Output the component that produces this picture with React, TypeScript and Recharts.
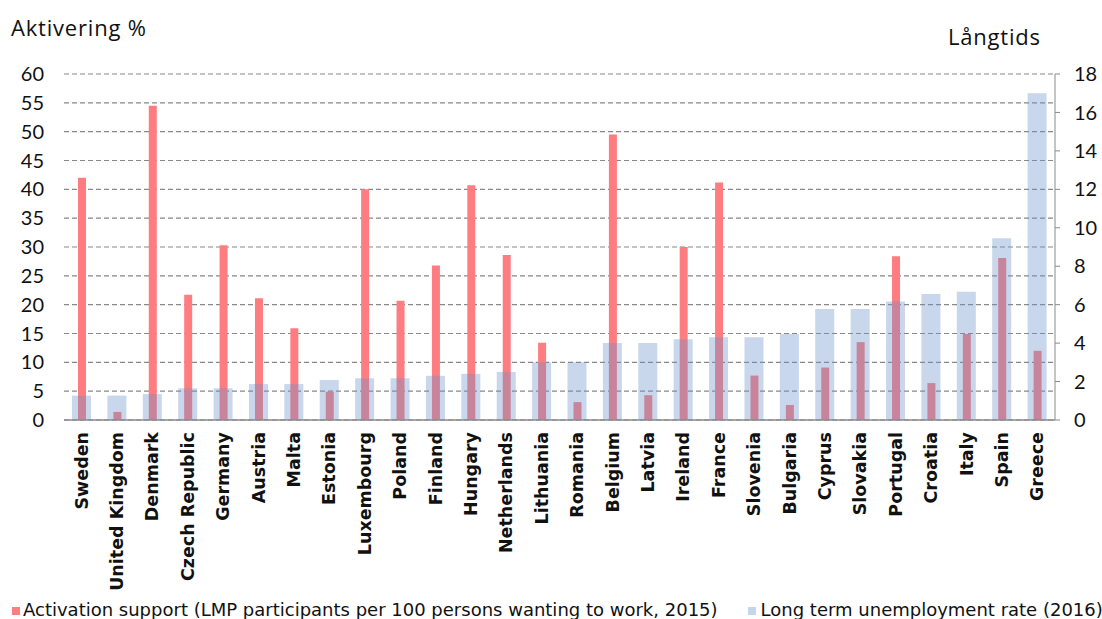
import { Bar, BarChart, CartesianGrid, Legend, XAxis, YAxis } from "recharts"

const countries = [
  "Sweden", "United Kingdom", "Denmark", "Czech Republic", "Germany", "Austria", "Malta",
  "Estonia", "Luxembourg", "Poland", "Finland", "Hungary", "Netherlands", "Lithuania",
  "Romania", "Belgium", "Latvia", "Ireland", "France", "Slovenia", "Bulgaria", "Cyprus",
  "Slovakia", "Portugal", "Croatia", "Italy", "Spain", "Greece",
]

// LMP participants per 100 persons wanting to work, 2015 (left axis)
const activation = [
  42, 1.4, 54.5, 21.7, 30.3, 21.1, 15.9, 4.9, 40, 20.7, 26.8, 40.7, 28.6, 13.4,
  3.1, 49.5, 4.3, 30, 41.2, 7.7, 2.6, 9.1, 13.5, 28.4, 6.4, 14.9, 28.1, 12,
]

// long term unemployment rate 2016 (right axis)
const longTerm = [
  1.27, 1.27, 1.35, 1.65, 1.65, 1.87, 1.87, 2.08, 2.17, 2.17, 2.3, 2.4, 2.5, 3.0,
  3.0, 4.0, 4.0, 4.2, 4.3, 4.3, 4.47, 5.78, 5.78, 6.16, 6.56, 6.67, 9.46, 17.0,
]

const leftTicks = [0, 5, 10, 15, 20, 25, 30, 35, 40, 45, 50, 55, 60]
const rightTicks = [0, 2, 4, 6, 8, 10, 12, 14, 16, 18]

const activationLabel = "Activation support (LMP participants per 100 persons wanting to work, 2015)"
const longTermLabel = "Long term unemployment rate (2016)"

const legendColors: Record<string, string> = {
  activation: "#ff7c80",
  longTerm: "#c6d6ea",
}

const data = countries.map((country, i) => ({
  country,
  activation: activation[i],
  longTerm: longTerm[i],
}))

const verdana = "'DejaVu Sans', Verdana, sans-serif"
const tickFont = { fontFamily: "Lato", fontSize: 20, fill: "#111" }

function CountryTick(props: any) {
  const { x, y, payload } = props
  return (
    <text
      x={x}
      y={y}
      transform={`rotate(-90, ${x}, ${y})`}
      textAnchor="end"
      dx={-4}
      dy={6}
      fontFamily={verdana}
      fontWeight="bold"
      fontSize={17.5}
      fill="#111"
    >
      {payload.value}
    </text>
  )
}

function LegendContent(props: any) {
  const items = props.payload ?? []
  return (
    <div
      style={{
        display: "flex",
        alignItems: "center",
        height: 19,
        lineHeight: "19px",
        paddingLeft: 12,
        fontFamily: verdana,
        fontSize: 18,
        color: "#111",
        whiteSpace: "nowrap",
        overflow: "hidden",
      }}
    >
      {items.map((item: any, i: number) => (
        <div key={item.dataKey} style={{ display: "flex", alignItems: "center", marginRight: 30 }}>
          <span
            style={{
              width: 8,
              height: 8,
              marginTop: 2,
              background: legendColors[item.dataKey],
              marginRight: i === 0 ? 3 : 5,
            }}
          />
          <span>{item.value}</span>
        </div>
      ))}
    </div>
  )
}

export default function App() {
  return (
    <div style={{ position: "relative", width: 1102, height: 619, background: "#fff", overflow: "hidden" }}>
      <style>{"html, body { margin: 0; padding: 0; overflow: hidden; }"}</style>
      <div
        style={{
          position: "absolute",
          left: 11,
          top: 12,
          fontFamily: "Open Sans",
          fontSize: 22,
          letterSpacing: 0.8,
          color: "#111",
        }}
      >
        Aktivering %
      </div>
      <div
        style={{
          position: "absolute",
          left: 948,
          top: 21,
          fontFamily: "Open Sans",
          fontSize: 22,
          letterSpacing: 0.8,
          color: "#111",
        }}
      >
        Långtids
      </div>
      <BarChart width={1102} height={619} data={data} margin={{ top: 74, right: 0, bottom: 0, left: 14 }}>
        <CartesianGrid yAxisId="left" vertical={false} stroke="#888" strokeDasharray="5 3" strokeWidth={1.2} />
        <XAxis
          xAxisId="a"
          dataKey="country"
          interval={0}
          height={180}
          tickLine={false}
          stroke="#8a8a8a"
          strokeWidth={1.5}
          tick={<CountryTick />}
        />
        <XAxis xAxisId="b" dataKey="country" hide />
        <YAxis
          yAxisId="left"
          width={50}
          domain={[0, 60]}
          ticks={leftTicks}
          axisLine={false}
          tickLine={false}
          tickSize={6}
          tickMargin={14}
          tick={tickFont}
        />
        <YAxis
          yAxisId="right"
          orientation="right"
          width={47}
          domain={[0, 18]}
          ticks={rightTicks}
          stroke="#8a8a8a"
          tickSize={5}
          tickMargin={14}
          tick={tickFont}
        />
        <Legend
          verticalAlign="bottom"
          height={19}
          wrapperStyle={{ top: 600, bottom: "auto", left: 0, width: 1102 }}
          content={<LegendContent />}
        />
        <Bar
          xAxisId="a"
          yAxisId="left"
          dataKey="activation"
          name={activationLabel}
          fill="#ff7c80"
          barSize={8}
          isAnimationActive={false}
        />
        <Bar
          xAxisId="b"
          yAxisId="right"
          dataKey="longTerm"
          name={longTermLabel}
          fill="#6a93c9"
          fillOpacity={0.37}
          barSize={19}
          isAnimationActive={false}
        />
      </BarChart>
    </div>
  )
}
